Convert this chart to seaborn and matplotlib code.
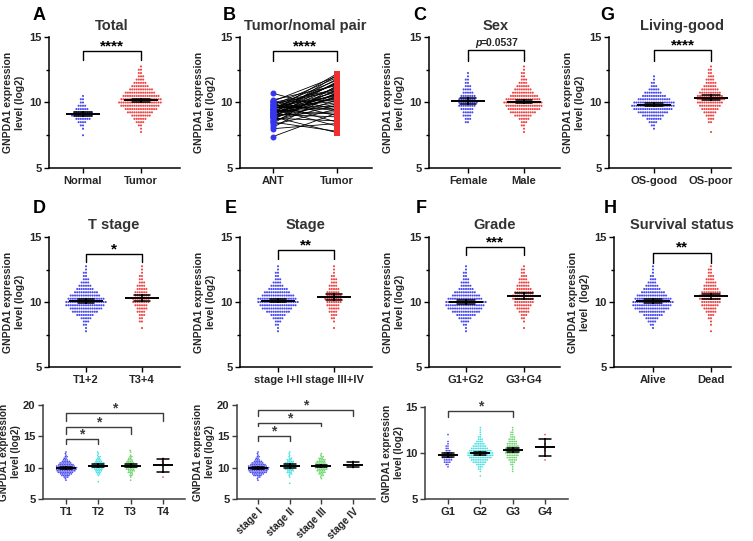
import numpy as np
import pandas as pd
import matplotlib
matplotlib.use("Agg")
import matplotlib.pyplot as plt
import seaborn as sns
from matplotlib.transforms import blended_transform_factory

# ---------------- data (histograms) ----------------
LEVELS = [7.5, 7.75, 8.0, 8.25, 8.5, 8.75, 9.0, 9.25, 9.5, 9.75, 10.0,
          10.25, 10.5, 10.75, 11.0, 11.25, 11.5, 11.75, 12.0, 12.25, 12.5, 12.75]

A_NAMES = ["Normal", "Tumor"]
A_NORMAL = [1, 0, 1, 2, 4, 7, 10, 9, 6, 4, 2, 2, 1, 0, 0, 0, 0, 0, 0, 0, 0, 0]
A_TUMOR = [0, 1, 1, 2, 4, 6, 9, 12, 15, 18, 20, 19, 17, 14, 11, 8, 6, 4, 3, 2, 2, 1]

B_NAMES = ["ANT", "Tumor"]
B_ANT = [7.4, 8.0, 8.1, 8.3, 8.4, 8.5, 8.6, 8.6, 8.7, 8.8, 8.8, 8.9, 8.9, 9.0, 9.0,
         9.0, 9.1, 9.1, 9.1, 9.2, 9.2, 9.2, 9.3, 9.3, 9.3, 9.4, 9.4, 9.4, 9.5, 9.5,
         9.5, 9.6, 9.6, 9.6, 9.7, 9.7, 9.8, 9.8, 9.9, 9.9, 10.0, 10.0, 10.1, 10.1,
         10.2, 9.2, 8.9, 9.5, 10.7, 9.0]
B_TUMOR = [9.2, 8.4, 10.8, 9.5, 11.3, 7.8, 10.2, 9.8, 11.0, 10.5, 8.6, 11.6, 9.9,
           10.7, 12.1, 9.3, 10.9, 11.2, 8.9, 10.4, 11.8, 10.0, 9.6, 11.5, 10.3, 12.2,
           9.1, 10.6, 11.1, 8.2, 10.8, 11.4, 9.7, 10.1, 11.7, 10.5, 9.4, 11.9, 10.9,
           8.5, 11.0, 10.2, 12.0, 9.0, 11.3, 10.6, 7.7, 11.5, 9.4, 10.4]

C_NAMES = ["Female", "Male"]
C_FEMALE = [0, 0, 0, 0, 2, 3, 4, 5, 6, 8, 9, 8, 7, 5, 4, 3, 2, 2, 1, 1, 0, 0]
C_MALE = [0, 1, 1, 2, 3, 5, 8, 12, 15, 17, 18, 16, 13, 10, 8, 6, 4, 3, 2, 2, 1, 1]

G_NAMES = ["OS-good", "OS-poor"]
G_GOOD = [0, 0, 1, 2, 4, 7, 10, 14, 18, 20, 19, 15, 11, 8, 5, 3, 2, 1, 1, 0, 0, 0]
G_POOR = [0, 1, 0, 0, 2, 3, 4, 6, 8, 10, 12, 13, 12, 10, 8, 6, 5, 4, 3, 2, 2, 1]

D_NAMES = ["T1+2", "T3+4"]
D_T12 = [0, 1, 1, 2, 3, 5, 8, 12, 15, 18, 19, 17, 14, 11, 8, 6, 4, 3, 2, 2, 1, 1]
D_T34 = [0, 0, 1, 0, 2, 2, 3, 4, 5, 6, 8, 8, 7, 6, 5, 4, 3, 2, 2, 1, 1, 1]

E_NAMES = ["stage I+II", "stage III+IV"]
E_I_II = [0, 1, 1, 2, 3, 5, 7, 11, 14, 17, 19, 18, 15, 12, 9, 6, 4, 3, 2, 2, 1, 1]
E_III_IV = [0, 0, 1, 0, 1, 2, 3, 4, 5, 6, 7, 8, 7, 6, 5, 4, 3, 3, 2, 1, 1, 1]

F_NAMES = ["G1+G2", "G3+G4"]
F_G12 = [0, 1, 1, 2, 4, 6, 9, 13, 16, 18, 19, 16, 13, 10, 7, 5, 4, 3, 2, 2, 1, 1]
F_G34 = [0, 0, 1, 0, 1, 2, 3, 5, 6, 8, 9, 10, 10, 9, 7, 6, 5, 4, 3, 2, 2, 1]

H_NAMES = ["Alive", "Dead"]
H_ALIVE = [0, 0, 1, 2, 4, 6, 9, 12, 16, 18, 19, 17, 14, 11, 8, 6, 4, 3, 2, 1, 1, 1]
H_DEAD = [0, 1, 0, 1, 1, 2, 3, 5, 6, 8, 9, 10, 10, 9, 7, 6, 5, 4, 3, 2, 2, 1]

T_NAMES = ["T1", "T2", "T3", "T4"]
T_T1 = [0, 0, 1, 1, 3, 5, 7, 9, 11, 12, 12, 11, 9, 7, 5, 3, 2, 2, 1, 1, 1, 0]
T_T2 = [0, 1, 0, 0, 0, 1, 2, 3, 4, 5, 7, 8, 7, 6, 4, 3, 2, 2, 1, 1, 1, 0]
T_T3 = [0, 0, 1, 0, 1, 2, 2, 3, 4, 5, 6, 7, 6, 5, 4, 3, 2, 2, 1, 0, 1, 1]
T_T4 = [0, 0, 0, 0, 1, 0, 0, 0, 0, 0, 0, 1, 0, 1, 1, 0, 1, 0, 0, 0, 0, 0]

S_NAMES = ["stage I", "stage II", "stage III", "stage IV"]
S_I = [0, 0, 1, 1, 2, 5, 7, 10, 11, 12, 12, 11, 9, 7, 5, 3, 2, 2, 1, 1, 1, 0]
S_II = [1, 0, 0, 0, 1, 1, 2, 3, 4, 5, 6, 7, 6, 5, 4, 3, 2, 1, 1, 1, 1, 0]
S_III = [0, 0, 0, 1, 1, 2, 3, 4, 5, 6, 7, 8, 7, 6, 5, 4, 3, 2, 1, 1, 0, 0]
S_IV = [0, 0, 0, 0, 0, 0, 0, 0, 0, 0, 1, 1, 1, 1, 1, 0, 0, 0, 0, 0, 0, 0]

GR_NAMES = ["G1", "G2", "G3", "G4"]
GR_G1 = [0, 0, 0, 0, 1, 2, 4, 5, 6, 6, 5, 3, 2, 2, 1, 1, 0, 0, 1, 0, 0, 0]
GR_G2 = [1, 0, 1, 2, 3, 5, 8, 10, 13, 15, 15, 13, 10, 8, 6, 4, 3, 2, 1, 1, 1, 1]
GR_G3 = [0, 0, 1, 1, 1, 2, 3, 5, 6, 7, 8, 9, 8, 7, 6, 5, 4, 3, 2, 2, 1, 1]
GR_G4 = [0, 0, 0, 0, 0, 0, 0, 1, 0, 0, 0, 1, 1, 0, 1, 0, 0, 0, 1, 0, 0, 0]

# ---------------- style ----------------
BLUE, RED, CYAN, GREEN = "#3636f0", "#f03030", "#2fdede", "#5cd05c"
YLABEL = "GNPDA1 expression\nlevel (log2)"

sns.set_theme(style="ticks")
plt.rcParams["font.family"] = ["Liberation Sans", "DejaVu Sans"]
plt.rcParams["font.weight"] = "bold"
plt.rcParams["axes.linewidth"] = 1.1

W, H = 753, 541
fig = plt.figure(figsize=(W / 100, H / 100), dpi=100)


def box(l, r, t, b):
    return [l / W, 1 - b / H, (r - l) / W, (b - t) / H]


def expand(counts):
    return np.repeat(LEVELS, counts)


def make_df(names, count_lists):
    frames = [pd.DataFrame({"group": n, "value": expand(c)})
              for n, c in zip(names, count_lists)]
    return pd.concat(frames, ignore_index=True)


def style_axis(ax, xlim, ylim, yticks, minor=None, ylabel=YLABEL, lc="black",
               lpad=3, lfs=7.5):
    ax.set_xlim(*xlim)
    ax.set_ylim(*ylim)
    ax.set_yticks(yticks)
    if minor:
        ax.set_yticks(minor, minor=True)
    ax.set_xlabel("")
    ax.set_ylabel(ylabel, fontsize=lfs, fontweight="bold", linespacing=1.25,
                  labelpad=lpad)
    sns.despine(ax=ax)
    for s in ("left", "bottom"):
        ax.spines[s].set_color(lc)
    ax.tick_params(axis="both", which="major", length=3.5, width=1.0,
                   labelsize=8, color=lc, pad=2)
    ax.tick_params(axis="y", which="minor", length=2.5, width=1.0, color=lc)
    for lab in ax.get_xticklabels() + ax.get_yticklabels():
        lab.set_fontweight("bold")


def draw_groups(ax, names, counts, colors, dot, meanw, cap):
    df = make_df(names, counts)
    sns.swarmplot(data=df, x="group", y="value", order=names, hue="group",
                  hue_order=names, palette=colors, size=dot, linewidth=0,
                  alpha=0.9, legend=False, ax=ax, zorder=2)
    sns.pointplot(data=df, x="group", y="value", order=names, color="black",
                  estimator="mean", errorbar=("se", 2), markers="_",
                  markersize=meanw, markeredgewidth=1.4, linestyle="none",
                  capsize=cap, err_kws={"linewidth": 1.1}, ax=ax, zorder=4)


def bracket(ax, x1, x2, yh, yl, text, lw=1.0, color="black", fs=11):
    ax.plot([x1, x1, x2, x2], [yl, yh, yh, yl], color=color, lw=lw,
            clip_on=False, zorder=5)
    if text is not None:
        ax.text((x1 + x2) / 2, yh + 0.05, text, ha="center", va="baseline",
                fontsize=fs, fontweight="bold", color=color, clip_on=False)


def title(ax, text, y):
    tr = blended_transform_factory(ax.transData, ax.transAxes)
    ax.text(0.5, y, text, transform=tr, ha="center", va="baseline",
            fontsize=10.5, fontweight="bold", color="#333333")


def letter(x, y, s):
    fig.text(x / W, 1 - y / H, s, fontsize=13, fontweight="bold",
             color="black", ha="left", va="baseline")


# ---------------- row 1 ----------------
R1T, R1B = 37, 168
R2T, R2B = 237, 367
DOT = 1.5

axA = fig.add_axes(box(49, 180, R1T, R1B))
draw_groups(axA, A_NAMES, [A_NORMAL, A_TUMOR], [BLUE, RED], DOT, 25, 0.3)
style_axis(axA, (-0.586, 1.672), (5, 15), [5, 10, 15], [7.5, 12.5])
bracket(axA, 0, 1, 13.95, 13.25, "****")
title(axA, "Total", 1.053)
letter(33, 20, "A")

axB = fig.add_axes(box(240, 372, R1T, R1B))
dfB = pd.DataFrame({"pair": list(range(len(B_ANT))) * 2,
                    "group": ["ANT"] * len(B_ANT) + ["Tumor"] * len(B_TUMOR),
                    "value": B_ANT + B_TUMOR})
sns.stripplot(data=dfB[dfB.group == "ANT"], x="group", y="value", order=B_NAMES,
              jitter=False, color=BLUE, size=4.3, linewidth=0, marker="o",
              ax=axB, zorder=3)
sns.stripplot(data=dfB[dfB.group == "Tumor"], x="group", y="value", order=B_NAMES,
              jitter=False, color=RED, size=4.3, linewidth=0, marker="s",
              ax=axB, zorder=3)
sns.lineplot(data=dfB, x="group", y="value", units="pair", estimator=None,
             color="black", lw=0.6, sort=False, legend=False, ax=axB, zorder=2)
style_axis(axB, (-0.516, 1.547), (5, 15), [5, 10, 15], [7.5, 12.5])
bracket(axB, 0, 1, 13.95, 13.2, "****")
title(axB, "Tumor/nomal pair", 1.053)
letter(223, 20, "B")

axC = fig.add_axes(box(429, 560, R1T, R1B))
draw_groups(axC, C_NAMES, [C_FEMALE, C_MALE], [BLUE, RED], DOT, 25, 0.3)
style_axis(axC, (-0.696, 1.643), (5, 15), [5, 10, 15], [7.5, 12.5])
bracket(axC, 0, 1, 14.0, 13.2, None)
axC.text(0.56, 14.3, "=0.0537", ha="center", va="baseline", fontsize=7.5,
         fontweight="bold", clip_on=False)
axC.text(0.56 - 0.315, 14.3, "p", ha="right", va="baseline", fontsize=7.5,
         fontweight="bold", fontstyle="italic", clip_on=False)
title(axC, "Sex", 1.053)
letter(413, 20, "C")

axG = fig.add_axes(box(609, 731, R1T, R1B))
draw_groups(axG, G_NAMES, [G_GOOD, G_POOR], [BLUE, RED], DOT, 25, 0.3)
style_axis(axG, (-0.789, 1.351), (5, 15), [5, 10, 15], [7.5, 12.5])
bracket(axG, 0, 1, 14.0, 13.2, "****")
title(axG, "Living-good", 1.053)
letter(600, 20, "G")

# ---------------- row 2 ----------------
axD = fig.add_axes(box(49, 180, R2T, R2B))
draw_groups(axD, D_NAMES, [D_T12, D_T34], [BLUE, RED], DOT, 25, 0.3)
style_axis(axD, (-0.661, 1.679), (5, 15), [5, 10, 15], [7.5, 12.5])
bracket(axD, 0, 1, 13.7, 13.1, "*")
title(axD, "T stage", 1.062)
letter(33, 213, "D")

axE = fig.add_axes(box(240, 372, R2T, R2B))
draw_groups(axE, E_NAMES, [E_I_II, E_III_IV], [BLUE, RED], DOT, 25, 0.3)
style_axis(axE, (-0.679, 1.679), (5, 15), [5, 10, 15], [7.5, 12.5])
bracket(axE, 0, 1, 14.0, 13.3, "**")
title(axE, "Stage", 1.062)
letter(225, 213, "E")

axF = fig.add_axes(box(429, 560, R2T, R2B))
draw_groups(axF, F_NAMES, [F_G12, F_G34], [BLUE, RED], DOT, 25, 0.3)
style_axis(axF, (-0.638, 1.621), (5, 15), [5, 10, 15], [7.5, 12.5])
bracket(axF, 0, 1, 14.2, 13.6, "***")
title(axF, "Grade", 1.062)
letter(416, 213, "F")

axH = fig.add_axes(box(614, 731, R2T, R2B))
draw_groups(axH, H_NAMES, [H_ALIVE, H_DEAD], [BLUE, RED], DOT, 25, 0.3)
style_axis(axH, (-0.672, 1.345), (5, 15), [5, 10, 15], [7.5, 12.5],
           ylabel="GNPDA1 expression\nlevel  (log2)")
bracket(axH, 0, 1, 13.8, 13.0, "**")
title(axH, "Survival status", 1.062)
letter(604, 213, "H")

# ---------------- row 3 ----------------
GRAY = "#3c3c3c"
axT = fig.add_axes(box(43, 185, 405, 499))
draw_groups(axT, T_NAMES, [T_T1, T_T2, T_T3, T_T4], [BLUE, CYAN, GREEN, RED],
            1.2, 14.5, 0.37)
style_axis(axT, (-0.711, 3.68), (5, 20), [5, 10, 15, 20], lc=GRAY,
           lpad=1, lfs=7.2)
bracket(axT, 0, 1, 14.6, 13.8, "*", color=GRAY, fs=10)
bracket(axT, 0, 2, 16.5, 15.4, "*", color=GRAY, fs=10)
bracket(axT, 0, 3, 18.7, 17.4, "*", color=GRAY, fs=10)

axS = fig.add_axes(box(237, 375, 405, 499))
draw_groups(axS, S_NAMES, [S_I, S_II, S_III, S_IV], [BLUE, CYAN, GREEN, RED],
            1.2, 14.5, 0.37)
style_axis(axS, (-0.663, 3.69), (5, 20), [5, 10, 15, 20], lc=GRAY,
           lpad=1, lfs=7.2)
for lab in axS.get_xticklabels():
    lab.set_rotation(45)
    lab.set_ha("right")
    lab.set_rotation_mode("anchor")
    lab.set_fontsize(7.3)
bracket(axS, 0, 1, 15.1, 14.3, "*", color=GRAY, fs=10)
bracket(axS, 0, 2, 17.1, 16.6, "*", color=GRAY, fs=10)
bracket(axS, 0, 3, 19.2, 18.2, "*", color=GRAY, fs=10)

axR = fig.add_axes(box(425, 568, 407, 499))
draw_groups(axR, GR_NAMES, [GR_G1, GR_G2, GR_G3, GR_G4], [BLUE, CYAN, GREEN, RED],
            1.2, 14.5, 0.37)
style_axis(axR, (-0.711, 3.71), (5, 15), [5, 10, 15], lc=GRAY, lpad=1, lfs=7.2)
bracket(axR, 0, 2, 14.57, 13.9, "*", color=GRAY, fs=10)

fig.savefig("out.png", dpi=100)
